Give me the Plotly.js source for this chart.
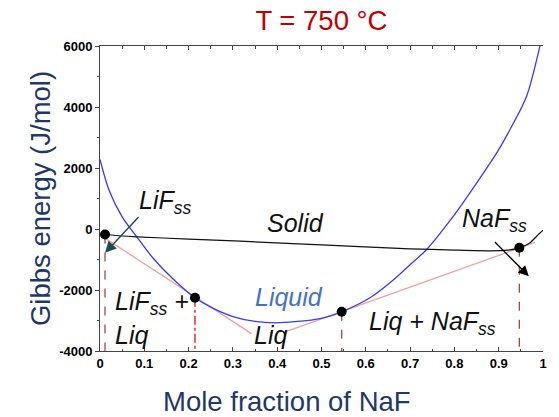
<!DOCTYPE html>
<html>
<head>
<meta charset="utf-8">
<script src="https://cdn.plot.ly/plotly-3.0.1.min.js"></script>
<style>html,body{margin:0;padding:0;background:#fff}#chart{width:559px;height:417px}</style>
</head>
<body>
<div id="chart"></div>
<script>
// ---- data ----
const xLiquid = [0, 0.02, 0.05, 0.083, 0.12, 0.165, 0.2144, 0.25, 0.3, 0.35, 0.395, 0.44, 0.5, 0.5456, 0.6095, 0.66, 0.70, 0.7374, 0.7976, 0.8427, 0.8955, 0.9255, 0.963, 0.993, 1.0];
const gLiquid = [2280, 1290, 400, -256, -960, -1640, -2256, -2560, -2870, -3030, -3075, -3040, -2930, -2715, -2256, -1700, -1170, -672, 420, 1351, 2498, 3262, 4354, 6000, 6500];

const xSolid = [0, 0.0113, 0.083, 0.2, 0.316, 0.5, 0.7, 0.8, 0.88, 0.92, 0.9466, 0.96, 0.9707, 0.9857, 1.0];
const gSolid = [-160, -180, -256, -330, -400, -520, -649, -690, -715, -695, -617, -540, -453, -236, -40];

const xTangentLiF = [0.0113, 0.342];
const gTangentLiF = [-300, -3430];
const xTangentNaF = [0.418, 0.982];
const gTangentNaF = [-3370, -440];

const xEquil = [0.0113, 0.2144, 0.5456, 0.9466];
const gEquil = [-180, -2256, -2715, -617];

const xTickVals = [0, 0.1, 0.2, 0.3, 0.4, 0.5, 0.6, 0.7, 0.8, 0.9, 1];
const xTickText = ['0', '0.1', '0.2', '0.3', '0.4', '0.5', '0.6', '0.7', '0.8', '0.9', '1'];
const yTickVals = [-4000, -2000, 0, 2000, 4000, 6000];
const yTickText = ['-4000', '-2000', '0', '2000', '4000', '6000'];

// ---- styles ----
const FONT = 'Liberation Sans, Arial, sans-serif';
const yMin = -4000, yMax = 6000;
const dropColors = ['#a04848', '#e01010', '#a04848', '#a04848'];
const dropDash = ['dash', 'dashdot', 'dash', 'dash'];

const traces = [];
xEquil.forEach((x, i) => {
  traces.push({x: [x, x], y: [gEquil[i], yMin], mode: 'lines', type: 'scatter',
    line: {color: dropColors[i], width: 1.3, dash: dropDash[i]}, hoverinfo: 'skip', showlegend: false});
});
traces.push({x: xTangentLiF, y: gTangentLiF, mode: 'lines', type: 'scatter', line: {color: '#eba3a3', width: 1.3}, showlegend: false});
traces.push({x: xTangentNaF, y: gTangentNaF, mode: 'lines', type: 'scatter', line: {color: '#eba3a3', width: 1.3}, showlegend: false});
traces.push({x: xLiquid, y: gLiquid, mode: 'lines', type: 'scatter', line: {color: '#3a3af2', width: 1.3, shape: 'spline', smoothing: 0.8}, showlegend: false});
traces.push({x: xSolid, y: gSolid, mode: 'lines', type: 'scatter', line: {color: '#111111', width: 1.2, shape: 'spline', smoothing: 0.6}, showlegend: false});
traces.push({x: xEquil, y: gEquil, mode: 'markers', type: 'scatter', marker: {color: '#000', size: 10}, showlegend: false});

const lbl = (text, x, y, opts) => Object.assign({text: text, x: x, y: y, xref: 'x', yref: 'y', showarrow: false,
  xanchor: 'left', yanchor: 'middle', font: {family: FONT, size: 25, color: '#111', style: 'italic'}}, opts || {});

const annotations = [
  lbl('LiF<sub>ss</sub>', 0.0835, 900),
  lbl('Solid', 0.4424, 213, {xanchor: 'center'}),
  lbl('NaF<sub>ss</sub>', 0.8126, 310),
  lbl('Liquid', 0.345, -2230, {font: {family: FONT, size: 25, color: '#4472c4', style: 'italic'}}),
  lbl('Liq', 0.343, -3480),
  lbl('LiF<sub>ss</sub> +', 0.0293, -2420),
  lbl('Liq', 0.0293, -3460),
  lbl('Liq + NaF<sub>ss</sub>', 0.6027, -3080),
  {text: 'Mole fraction of NaF', xref: 'paper', yref: 'paper', x: 0.4215, y: -0.167, xanchor: 'center', yanchor: 'middle',
    showarrow: false, font: {family: FONT, size: 27.5, color: '#1f3864'}},
  {x: 0.0113, y: -780, ax: 0.0903, ay: 443, xref: 'x', yref: 'y', axref: 'x', ayref: 'y', text: '',
    showarrow: true, arrowhead: 2, arrowsize: 1.6, arrowwidth: 1.4, arrowcolor: '#1d4b4b'},
  {x: 0.968, y: -1548, ax: 0.888, ay: -377, xref: 'x', yref: 'y', axref: 'x', ayref: 'y', text: '',
    showarrow: true, arrowhead: 2, arrowsize: 1.6, arrowwidth: 1.3, arrowcolor: '#000'}
];

const tickFont = {family: FONT, size: 13, color: '#000', weight: 'bold'};
const layout = {
  width: 559, height: 417,
  margin: {l: 100, r: 16, t: 46, b: 66},
  paper_bgcolor: '#fff', plot_bgcolor: '#fff',
  showlegend: false,
  title: {text: 'T = 750 °C', font: {family: FONT, size: 27.5, color: '#c00000'}, x: 0.575, xanchor: 'center', y: 0.95, yanchor: 'middle', yref: 'container'},
  xaxis: {range: [0, 1], tickvals: xTickVals, ticktext: xTickText, ticks: 'inside', ticklen: 4, tickcolor: '#444',
    showline: true, linecolor: '#444', linewidth: 1, mirror: 'ticks', zeroline: false, showgrid: false,
    minor: {tickvals: [0.05,0.15,0.25,0.35,0.45,0.55,0.65,0.75,0.85,0.95], ticks: 'inside', ticklen: 2.5, tickcolor: '#444'},
    tickfont: tickFont},
  yaxis: {range: [yMin, yMax], tickvals: yTickVals, ticktext: yTickText, ticks: 'outside', ticklen: 4, tickcolor: '#444',
    showline: true, linecolor: '#444', linewidth: 1, zeroline: false, showgrid: false,
    minor: {tickvals: [-3000,-1000,1000,3000,5000], ticks: 'outside', ticklen: 2.5, tickcolor: '#444'},
    tickfont: tickFont,
    title: {text: 'Gibbs energy (J/mol)', font: {family: FONT, size: 27.5, color: '#1f3864'}, standoff: 0}},
  yaxis2: {range: [yMin, yMax], overlaying: 'y', side: 'right', matches: 'y', tickvals: yTickVals, ticks: 'inside', ticklen: 4, tickcolor: '#444',
    showticklabels: false, showline: true, linecolor: '#444', linewidth: 1, zeroline: false, showgrid: false,
    minor: {tickvals: [-3000,-1000,1000,3000,5000], ticks: 'inside', ticklen: 2.5, tickcolor: '#444'}},
  annotations: annotations
};

Plotly.newPlot('chart', traces, layout, {displayModeBar: false, staticPlot: true});
</script>
</body>
</html>
